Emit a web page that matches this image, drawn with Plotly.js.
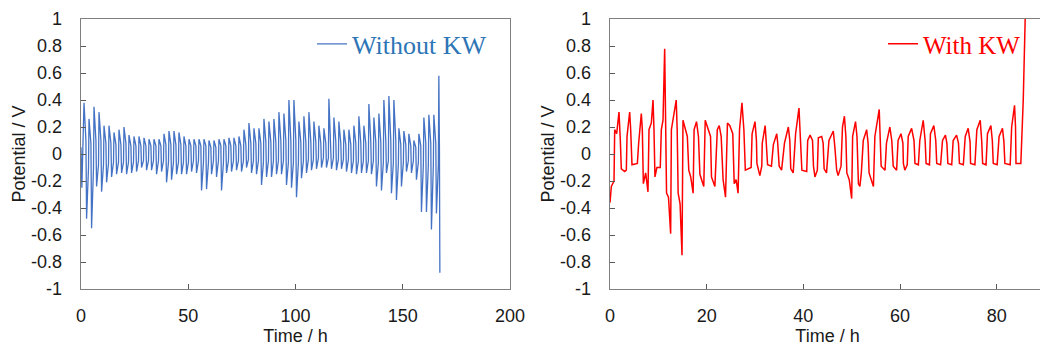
<!DOCTYPE html>
<html>
<head>
<meta charset="utf-8">
<script src="https://cdn.plot.ly/plotly-3.0.1.min.js"></script>
<style>
  html, body { margin: 0; padding: 0; background: #ffffff; overflow: hidden; }
  #chart { width: 1050px; height: 347px; }
</style>
</head>
<body>
<div id="chart"></div>
<script>
// ---------- DATA ----------
const seriesNames = ["Without KW", "With KW"];

// Without KW: per cycle -> peak, upper plateau end, trough, lower plateau end (h, V)
const leftTime = [
  0, 0.4,
  1.4, 2.3, 2.6, 3.5,
  3.73, 4.63, 4.93, 5.83,
  6.06, 6.96, 7.26, 8.16,
  8.39, 9.29, 9.59, 10.49,
  10.72, 11.62, 11.92, 12.82,
  13.05, 13.95, 14.25, 15.15,
  15.38, 16.28, 16.58, 17.48,
  17.71, 18.61, 18.91, 19.81,
  20.04, 20.94, 21.24, 22.14,
  22.37, 23.27, 23.57, 24.47,
  24.7, 25.6, 25.9, 26.8,
  27.03, 27.93, 28.23, 29.13,
  29.36, 30.26, 30.56, 31.46,
  31.69, 32.59, 32.89, 33.79,
  34.02, 34.92, 35.22, 36.12,
  36.35, 37.25, 37.55, 38.45,
  38.68, 39.58, 39.88, 40.78,
  41.01, 41.91, 42.21, 43.11,
  43.34, 44.24, 44.54, 45.44,
  45.67, 46.57, 46.87, 47.77,
  48.0, 48.9, 49.2, 50.1,
  50.33, 51.23, 51.53, 52.43,
  52.66, 53.56, 53.86, 54.76,
  54.99, 55.89, 56.19, 57.09,
  57.32, 58.22, 58.52, 59.42,
  59.65, 60.55, 60.85, 61.75,
  61.98, 62.88, 63.18, 64.08,
  64.31, 65.21, 65.51, 66.41,
  66.64, 67.54, 67.84, 68.74,
  68.97, 69.87, 70.17, 71.07,
  71.3, 72.2, 72.5, 73.4,
  73.63, 74.53, 74.83, 75.73,
  75.96, 76.86, 77.16, 78.06,
  78.29, 79.19, 79.49, 80.39,
  80.62, 81.52, 81.82, 82.72,
  82.95, 83.85, 84.15, 85.05,
  85.28, 86.18, 86.48, 87.38,
  87.61, 88.51, 88.81, 89.71,
  89.94, 90.84, 91.14, 92.04,
  92.27, 93.17, 93.47, 94.37,
  94.6, 95.5, 95.8, 96.7,
  96.93, 97.83, 98.13, 99.03,
  99.26, 100.16, 100.46, 101.36,
  101.59, 102.49, 102.79, 103.69,
  103.92, 104.82, 105.12, 106.02,
  106.25, 107.15, 107.45, 108.35,
  108.58, 109.48, 109.78, 110.68,
  110.91, 111.81, 112.11, 113.01,
  113.24, 114.14, 114.44, 115.34,
  115.57, 116.47, 116.77, 117.67,
  117.9, 118.8, 119.1, 120.0,
  120.23, 121.13, 121.43, 122.33,
  122.56, 123.46, 123.76, 124.66,
  124.89, 125.79, 126.09, 126.99,
  127.22, 128.12, 128.42, 129.32,
  129.55, 130.45, 130.75, 131.65,
  131.88, 132.78, 133.08, 133.98,
  134.21, 135.11, 135.41, 136.31,
  136.54, 137.44, 137.74, 138.64,
  138.87, 139.77, 140.07, 140.97,
  141.2, 142.1, 142.4, 143.3,
  143.53, 144.43, 144.73, 145.63,
  145.86, 146.76, 147.06, 147.96,
  148.19, 149.09, 149.39, 150.29,
  150.52, 151.42, 151.72, 152.62,
  152.85, 153.75, 154.05, 154.95,
  155.18, 156.08, 156.38, 157.28,
  157.51, 158.41, 158.71, 159.61,
  159.84, 160.74, 161.04, 161.94,
  162.17, 163.07, 163.37, 164.27,
  164.5, 165.4, 165.7, 166.6,
  166.83, 167.1, 167.3
];
const leftPotential = [
  0.05, -0.25,
  0.38, 0.10, -0.48, -0.10,
  0.26, 0.08, -0.55, -0.10,
  0.35, 0.10, -0.24, -0.08,
  0.31, 0.10, -0.28, -0.08,
  0.21, 0.08, -0.21, -0.07,
  0.21, 0.08, -0.17, -0.06,
  0.16, 0.07, -0.15, -0.06,
  0.18, 0.07, -0.14, -0.06,
  0.20, 0.08, -0.15, -0.06,
  0.14, 0.06, -0.14, -0.06,
  0.13, 0.06, -0.13, -0.05,
  0.13, 0.06, -0.10, -0.05,
  0.12, 0.06, -0.12, -0.05,
  0.11, 0.06, -0.12, -0.05,
  0.11, 0.06, -0.15, -0.05,
  0.11, 0.06, -0.13, -0.05,
  0.15, 0.07, -0.21, -0.06,
  0.17, 0.07, -0.19, -0.06,
  0.17, 0.07, -0.15, -0.06,
  0.16, 0.07, -0.15, -0.06,
  0.13, 0.06, -0.15, -0.06,
  0.11, 0.06, -0.13, -0.05,
  0.11, 0.06, -0.14, -0.05,
  0.11, 0.06, -0.27, -0.06,
  0.11, 0.06, -0.26, -0.06,
  0.10, 0.05, -0.15, -0.05,
  0.10, 0.05, -0.17, -0.05,
  0.11, 0.06, -0.27, -0.06,
  0.11, 0.06, -0.14, -0.05,
  0.12, 0.06, -0.13, -0.05,
  0.12, 0.06, -0.12, -0.05,
  0.13, 0.06, -0.13, -0.05,
  0.18, 0.07, -0.10, -0.04,
  0.23, 0.08, -0.14, -0.05,
  0.19, 0.08, -0.15, -0.05,
  0.19, 0.08, -0.23, -0.06,
  0.26, 0.09, -0.17, -0.05,
  0.24, 0.09, -0.17, -0.05,
  0.26, 0.09, -0.15, -0.05,
  0.31, 0.10, -0.15, -0.05,
  0.30, 0.10, -0.23, -0.06,
  0.40, 0.10, -0.25, -0.06,
  0.40, 0.10, -0.32, -0.06,
  0.24, 0.09, -0.18, -0.05,
  0.28, 0.09, -0.14, -0.04,
  0.31, 0.09, -0.12, -0.04,
  0.24, 0.09, -0.11, -0.03,
  0.21, 0.08, -0.10, -0.03,
  0.19, 0.08, -0.10, -0.03,
  0.41, 0.09, -0.11, -0.03,
  0.27, 0.09, -0.12, -0.04,
  0.24, 0.08, -0.11, -0.04,
  0.18, 0.07, -0.13, -0.04,
  0.18, 0.07, -0.14, -0.05,
  0.21, 0.08, -0.15, -0.05,
  0.28, 0.08, -0.14, -0.05,
  0.21, 0.08, -0.14, -0.05,
  0.37, 0.09, -0.15, -0.05,
  0.27, 0.09, -0.24, -0.06,
  0.30, 0.09, -0.27, -0.06,
  0.40, 0.10, -0.14, -0.05,
  0.43, 0.10, -0.29, -0.06,
  0.40, 0.10, -0.34, -0.07,
  0.19, 0.07, -0.24, -0.06,
  0.17, 0.07, -0.13, -0.05,
  0.15, 0.06, -0.14, -0.05,
  0.10, 0.05, -0.19, -0.06,
  0.15, 0.06, -0.43, -0.08,
  0.27, 0.08, -0.43, -0.08,
  0.29, 0.08, -0.56, -0.08,
  0.29, 0.08, -0.44, -0.08,
  0.58, 0.05, -0.88
];

// With KW (h, V)
const rightTime = [
  0, 0.28, 0.83, 0.97, 1.38, 1.86, 2.14, 2.34, 3.03, 3.38,
  3.52, 4.07, 4.28, 4.55, 5.66, 5.93, 6.48, 6.69, 6.9, 7.38,
  7.86, 8.07, 8.55, 8.9, 9.1, 9.3, 9.7, 10.4, 10.62, 10.97,
  11.31, 11.5, 11.7, 12.1, 12.55, 12.7, 13.0, 13.7, 13.9, 14.1,
  14.5, 14.9, 15.1, 15.6, 16.0, 16.3, 16.7, 17.2, 17.4, 17.9,
  18.3, 18.6, 19.4, 19.7, 20.3, 20.8, 21.0, 21.7, 22.2, 22.6,
  23.0, 23.4, 23.9, 24.3, 24.8, 25.4, 25.7, 26.1, 26.5, 26.8,
  27.3, 27.7, 28.0, 29.2, 29.4, 30.0, 30.3, 30.4, 31.0, 31.4,
  31.5, 32.1, 32.3, 32.6, 33.4, 33.8, 34.5, 34.7, 35.0, 35.5,
  36.1, 36.9, 37.2, 37.4, 37.9, 38.4, 39.1, 39.4, 39.7, 40.7,
  40.9, 41.4, 41.9, 42.1, 42.4, 42.9, 43.1, 43.8, 44.1, 44.3,
  44.8, 45.3, 46.2, 46.5, 46.9, 47.2, 47.8, 48.1, 48.5, 48.8,
  49.0, 49.5, 50.0, 50.2, 50.8, 51.1, 51.4, 51.7, 52.0, 52.4,
  53.1, 53.4, 53.6, 54.5, 54.8, 55.7, 55.9, 56.1, 56.9, 57.2,
  57.9, 58.3, 58.6, 59.3, 59.6, 60.2, 60.6, 60.7, 61.0, 61.5,
  61.7, 62.4, 62.9, 63.1, 63.8, 64.1, 64.8, 65.2, 65.4, 66.1,
  66.3, 67.0, 67.4, 67.6, 68.4, 68.8, 69.4, 69.7, 69.9, 70.7,
  71.0, 71.7, 72.1, 72.3, 73.1, 73.5, 74.1, 74.5, 74.6, 75.5,
  75.9, 76.6, 76.9, 77.1, 77.8, 78.1, 78.8, 79.1, 79.3, 80.1,
  80.5, 81.2, 81.5, 81.7, 82.8, 83.1, 83.7, 83.9, 84.0, 85.0,
  85.5, 85.9
];
const rightPotential = [
  -0.36, -0.24, -0.20, 0.18, 0.15, 0.31, 0.10, -0.11, -0.13, -0.12,
  0.13, 0.31, 0.18, -0.08, -0.07, 0.08, 0.30, 0.18, -0.22, -0.14,
  -0.28, 0.18, 0.23, 0.40, 0.18, -0.17, -0.10, -0.10, 0.18, 0.25,
  0.78, 0.18, -0.29, -0.32, -0.59, 0.18, 0.25, 0.40, 0.18, -0.29,
  -0.37, -0.75, 0.25, 0.18, 0.13, -0.12, -0.17, -0.29, 0.18, 0.24,
  0.13, -0.15, -0.24, 0.25, 0.18, 0.13, -0.17, -0.24, 0.18, 0.21,
  0.13, -0.19, -0.32, 0.23, 0.21, 0.15, -0.22, -0.19, -0.29, 0.18,
  0.38, 0.18, -0.12, -0.10, 0.15, 0.24, 0.10, -0.07, -0.16, -0.09,
  0.08, 0.21, 0.10, -0.08, -0.09, 0.07, 0.15, 0.08, -0.09, -0.12,
  0.08, 0.20, 0.10, -0.11, -0.14, 0.15, 0.34, 0.13, -0.12, -0.13,
  0.10, 0.14, 0.10, -0.09, -0.17, -0.12, 0.12, 0.13, 0.08, -0.11,
  -0.14, 0.10, 0.17, 0.06, -0.12, -0.16, -0.09, 0.20, 0.28, 0.13,
  -0.14, -0.19, -0.33, 0.13, 0.24, 0.13, -0.22, -0.24, -0.14, 0.10,
  0.18, 0.08, -0.14, -0.24, 0.13, 0.33, 0.13, -0.09, -0.12, 0.08,
  0.20, 0.10, -0.09, -0.12, 0.10, 0.15, 0.08, -0.07, -0.12, -0.08,
  0.13, 0.19, 0.10, -0.07, -0.08, 0.10, 0.25, 0.10, -0.07, -0.08,
  0.15, 0.21, 0.10, -0.07, -0.08, 0.10, 0.14, 0.08, -0.07, -0.08,
  0.10, 0.14, 0.08, -0.07, -0.08, 0.13, 0.19, 0.09, -0.07, -0.08,
  0.18, 0.25, 0.10, -0.07, -0.08, 0.15, 0.21, 0.10, -0.07, -0.08,
  0.13, 0.19, 0.09, -0.07, -0.08, 0.20, 0.36, 0.20, -0.07, -0.07,
  0.40, 1.0
];

const leftXTicks = [0, 50, 100, 150, 200];
const rightXTicks = [0, 20, 40, 60, 80];
const yTicks = [-1, -0.8, -0.6, -0.4, -0.2, 0, 0.2, 0.4, 0.6, 0.8, 1];
const yTickLabels = ["-1", "-0.8", "-0.6", "-0.4", "-0.2", "0", "0.2", "0.4", "0.6", "0.8", "1"];
const xTitle = "Time / h";
const yTitle = "Potential / V";

// ---------- LAYOUT ----------
const W = 1050, H = 347;
const px = v => v / W;
const py = v => 1 - v / H;

const tickFont = { family: "Liberation Sans, Arial, sans-serif", size: 18, color: "#1a1a1a" };
const titleFont = { family: "Liberation Sans, Arial, sans-serif", size: 18, color: "#1a1a1a" };

function xAxis(domain, range, ticks, anchor) {
  return {
    domain: domain, range: range, anchor: anchor,
    tickmode: "array", tickvals: ticks,
    ticks: "inside", ticklen: 5, tickwidth: 1, tickcolor: "#595959",
    showline: true, mirror: true, linecolor: "#7f7f7f", linewidth: 1.3,
    showgrid: false, zeroline: false,
    tickfont: tickFont, ticklabelstandoff: 10,
    title: { text: xTitle, font: titleFont, standoff: 4 },
    fixedrange: true
  };
}
function yAxis(domain, anchor) {
  return {
    domain: domain, range: [-1, 1], anchor: anchor,
    tickmode: "array", tickvals: yTicks, ticktext: yTickLabels,
    ticks: "inside", ticklen: 5, tickwidth: 1, tickcolor: "#595959",
    showline: true, mirror: true, linecolor: "#7f7f7f", linewidth: 1.3,
    showgrid: false, zeroline: false,
    tickfont: tickFont, ticklabelstandoff: 14,
    title: { text: yTitle, font: titleFont, standoff: 0 },
    fixedrange: true
  };
}

const yDom = [py(289), py(19)];

const traces = [
  {
    x: leftTime, y: leftPotential, type: "scatter", mode: "lines",
    name: seriesNames[0], xaxis: "x", yaxis: "y", legend: "legend",
    line: { color: "#4472C4", width: 1.3 }
  },
  {
    x: rightTime, y: rightPotential, type: "scatter", mode: "lines",
    name: seriesNames[1], xaxis: "x2", yaxis: "y2", legend: "legend2",
    line: { color: "#FF0000", width: 1.5 }
  }
];

const layout = {
  width: W, height: H,
  margin: { l: 0, r: 0, t: 0, b: 0 },
  paper_bgcolor: "#ffffff", plot_bgcolor: "#ffffff",
  showlegend: true,
  xaxis: xAxis([px(81), px(510)], [0, 200], leftXTicks, "y"),
  yaxis: yAxis(yDom, "x"),
  xaxis2: xAxis([px(610), px(1045)], [0, 90], rightXTicks, "y2"),
  yaxis2: yAxis(yDom, "x2"),
  legend: {
    x: px(312), y: py(44), xanchor: "left", yanchor: "middle",
    bgcolor: "rgba(0,0,0,0)", borderwidth: 0, itemwidth: 30,
    font: { family: "Liberation Serif, Times New Roman, serif", size: 26, color: "#2E75B6" }
  },
  legend2: {
    x: px(883), y: py(44), xanchor: "left", yanchor: "middle",
    bgcolor: "rgba(0,0,0,0)", borderwidth: 0, itemwidth: 30,
    font: { family: "Liberation Serif, Times New Roman, serif", size: 25, color: "#FF0000" }
  }
};

Plotly.newPlot("chart", traces, layout, { displayModeBar: false, staticPlot: true });
</script>
</body>
</html>
